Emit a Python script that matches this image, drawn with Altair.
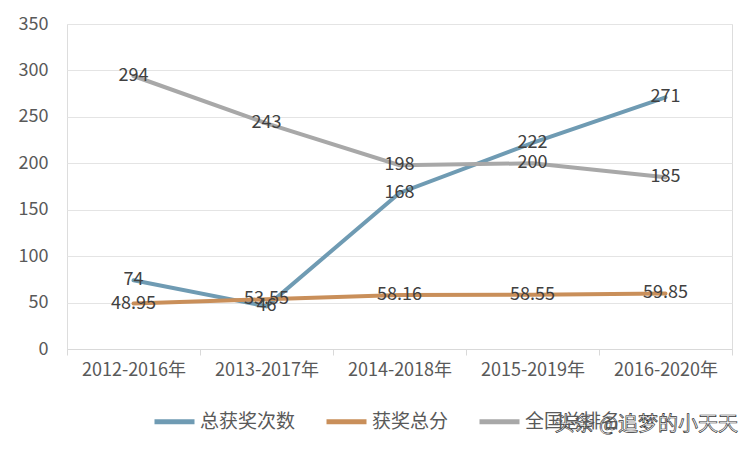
import altair as alt
import pandas as pd

periods = ["2012-2016年", "2013-2017年", "2014-2018年", "2015-2019年", "2016-2020年"]
series_names = ["总获奖次数", "获奖总分", "全国总排名"]
awards_count = [74, 46, 168, 222, 271]
awards_score = [48.95, 53.55, 58.16, 58.55, 59.85]
national_rank = [294, 243, 198, 200, 185]
label_text = {
    "总获奖次数": ["74", "46", "168", "222", "271"],
    "获奖总分": ["48.95", "53.55", "58.16", "58.55", "59.85"],
    "全国总排名": ["294", "243", "198", "200", "185"],
}
colors = ["#6f9bb3", "#c98f5a", "#a8a8a8"]
y_ticks = [0, 50, 100, 150, 200, 250, 300, 350]
watermark = "头条 @追梦的小天天"

rows = []
for name, vals in zip(series_names, [awards_count, awards_score, national_rank]):
    for p, v, t in zip(periods, vals, label_text[name]):
        rows.append({"period": p, "value": v, "series": name, "label": t})
df = pd.DataFrame(rows)

FONT = "Noto Sans CJK SC"

x_enc = alt.X("period:N", sort=periods,
              scale=alt.Scale(type="band", paddingInner=0, paddingOuter=0),
              axis=alt.Axis(title=None, labelAngle=0, labelFontSize=18, labelColor="#595959",
                            labelFont=FONT, tickBand="extent", tickSize=6, tickColor="#d9d9d9",
                            domainColor="#d9d9d9", labelPadding=6, grid=False))
y_enc = alt.Y("value:Q", scale=alt.Scale(domain=[0, 350], nice=False),
              axis=alt.Axis(title=None, values=y_ticks, labelFontSize=18, labelColor="#595959",
                            labelFont=FONT, tickSize=0, labelPadding=19, domain=False,
                            gridColor="#e4e4e4", gridWidth=1))
color_enc = alt.Color("series:N", sort=series_names,
                      scale=alt.Scale(domain=series_names, range=colors),
                      legend=alt.Legend(title=None, orient="none", legendX=85, legendY=375,
                                        direction="horizontal", symbolType="stroke",
                                        symbolSize=1600, symbolStrokeWidth=5,
                                        labelFontSize=19, labelFont=FONT, labelColor="#595959",
                                        labelOffset=3, columnPadding=20))

lines = alt.Chart(df).mark_line(strokeWidth=4, strokeCap="round").encode(
    x=x_enc, y=y_enc, color=color_enc
)
labels = alt.Chart(df).mark_text(fontSize=18, font=FONT, color="#404040",
                                 align="center", baseline="middle").encode(
    x=alt.X("period:N", sort=periods), y="value:Q", text="label:N"
)
wm = alt.Chart(pd.DataFrame({"t": [watermark]})).mark_text(
    fontSize=20, font=FONT, fill="white", stroke="#333333", strokeWidth=0.7,
    align="right", baseline="middle"
).encode(x=alt.value(671), y=alt.value(401), text="t:N")

chart = alt.layer(lines, labels, wm).properties(
    width=665, height=325,
    autosize=alt.AutoSizeParams(type="none"),
    padding={"left": 59, "top": 16, "right": 13, "bottom": 96},
).configure_view(stroke=None).configure(background="white")

chart.save("out.html", embed_options={"renderer": "svg", "actions": False})
